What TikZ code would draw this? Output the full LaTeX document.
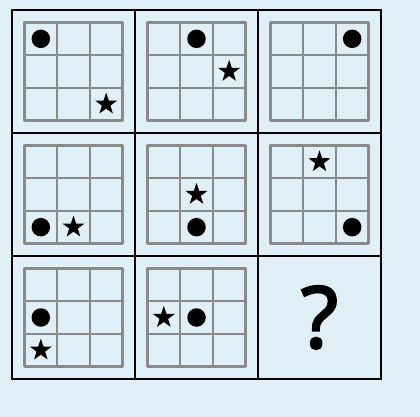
\documentclass[tikz,border=0pt]{standalone}
\usepackage{fontspec}
\setmainfont{DejaVu Sans}
\newfontfamily\qfont[FakeBold=2.2]{Noto Sans}
\usepackage{tikz}
\usetikzlibrary{shapes.geometric}

\definecolor{panelbg}{HTML}{E0EEF6}
\definecolor{gridgray}{HTML}{8A8A8A}

\begin{document}
\begin{tikzpicture}[
  x=1pt, y=-1pt,
  cellbox/.style={draw=black, line width=2pt, minimum size=123pt, inner sep=0pt, outer sep=0pt},
  inner line/.style={draw=gridgray, line width=2.6pt, line join=round},
  dotmark/.style={circle, fill=black, inner sep=0pt, minimum size=18.5pt},
  starmark/.style={star, star points=5, star point ratio=2.55, fill=black, inner sep=0pt, minimum size=23pt}
]
\fill[panelbg] (0,0) rectangle (420,417);
\useasboundingbox (0,0) rectangle (420,417);

% the nine panels
\foreach \R in {1,2,3}
  \foreach \C in {1,2,3}
    \node[cellbox] (cell-\R-\C) at ({73.5+123*(\C-1)}, {71.5+123*(\R-1)}) {};

% small 3x3 grids
\foreach \R/\C in {1/1,1/2,1/3,2/1,2/2,2/3,3/1,3/2}{
  \begin{scope}[shift={(cell-\R-\C.center)}]
    \foreach \t in {-16.33,16.33}{
      \draw[inner line] (\t,-49) -- (\t,49);
      \draw[inner line] (-49,\t) -- (49,\t);
    }
    \draw[inner line] (-49,-49) rectangle (49,49);
  \end{scope}
}

% dots and stars: panel row/col, square row/col, kind
\foreach \R/\C/\r/\c/\kind in {
  1/1/1/1/dotmark, 1/1/3/3/starmark,
  1/2/1/2/dotmark, 1/2/2/3/starmark,
  1/3/1/3/dotmark,
  2/1/3/1/dotmark, 2/1/3/2/starmark,
  2/2/2/2/starmark, 2/2/3/2/dotmark,
  2/3/1/2/starmark, 2/3/3/3/dotmark,
  3/1/2/1/dotmark, 3/1/3/1/starmark,
  3/2/2/1/starmark, 3/2/2/2/dotmark}{
  \begin{scope}[shift={(cell-\R-\C.center)}]
    \node[\kind] (\kind-\R-\C) at ({32.67*(\c-2)}, {32.67*(\r-2)}) {};
  \end{scope}
}

\node[font=\qfont\fontsize{86}{86}\selectfont, inner sep=0pt] (qmark) at (cell-3-3.center) {?};
\end{tikzpicture}
\end{document}
